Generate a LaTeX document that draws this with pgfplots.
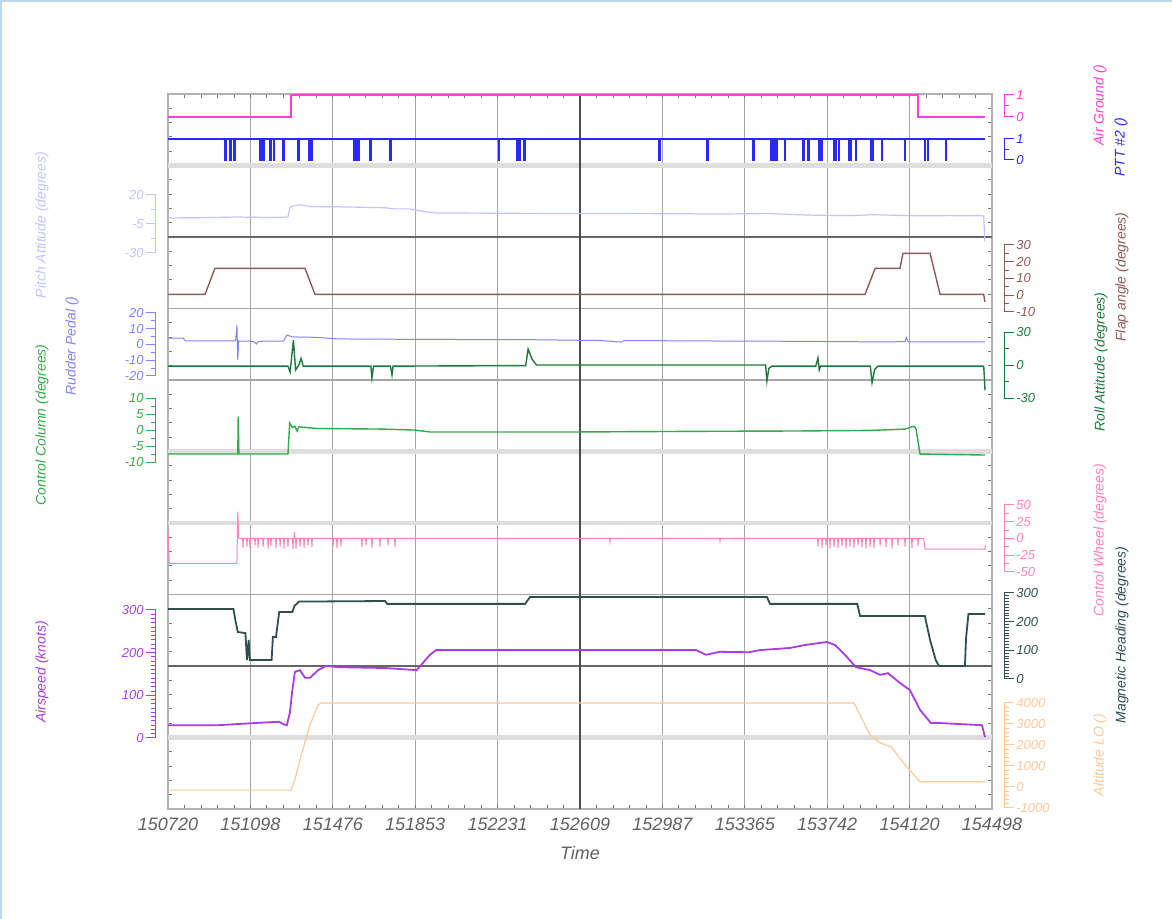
\documentclass[border=0pt]{standalone}
\usepackage{fontspec}
\setmainfont{Liberation Sans}
\usepackage{pgfplots}
\pgfplotsset{compat=1.18}
\definecolor{cAG}{RGB}{255,60,220}
\definecolor{cPTT}{RGB}{40,40,255}
\definecolor{cPitch}{RGB}{195,195,255}
\definecolor{cFlap}{RGB}{140,90,90}
\definecolor{cRud}{RGB}{130,130,255}
\definecolor{cRoll}{RGB}{30,120,60}
\definecolor{cCC}{RGB}{50,170,70}
\definecolor{cCW}{RGB}{255,130,185}
\definecolor{cHdg}{RGB}{47,79,79}
\definecolor{cAS}{RGB}{170,60,230}
\definecolor{cAlt}{RGB}{255,200,150}
\definecolor{cFrame}{RGB}{190,215,235}
\newcommand{\tl}{\fontsize{6.5}{7}\selectfont\itshape}
\newcommand{\al}{\fontsize{7}{8}\selectfont\itshape}
\pgfplotsset{
  ov/.style={scale only axis, width=412pt, height=357.5pt, at={(84pt,55pt)}, anchor=south west,
    xmin=150720, xmax=154498, hide x axis, clip=false, scaled x ticks=false,
    tick align=outside, major tick length=5pt, minor tick length=2.5pt,
    y axis line style={draw=none},
    yticklabel style={font=\tl, inner sep=1pt},
    /pgf/number format/1000 sep={}, /pgf/number format/assume math mode=true,
    scaled y ticks=false},
  ovl/.style={ov, axis y line*=left, axis y line shift=6pt},
  ovr/.style={ov, axis y line*=right, axis y line shift=6pt},
  sc/.style={tick style={color=#1, line width=0.5pt}, yticklabel style={text=#1}},
}
\newcommand{\scL}[3]{\draw[#1, line width=0.5pt] ([xshift=-6pt]axis cs:150720,#2) -- ([xshift=-6pt]axis cs:150720,#3);}
\newcommand{\scR}[3]{\draw[#1, line width=0.5pt] ([xshift=6pt]axis cs:154498,#2) -- ([xshift=6pt]axis cs:154498,#3);}
\newcommand{\px}[2]{({#1*0.5pt},{(919-#2)*0.5pt})}
\begin{document}
\begin{tikzpicture}
\useasboundingbox (0,0) rectangle (586pt,459.5pt);
\draw[cFrame, line width=1pt] (0.5pt,0) -- (0.5pt,459pt) -- (586pt,459pt);
% base axis
\begin{axis}[scale only axis, width=412pt, height=357.5pt, at={(84pt,55pt)}, anchor=south west,
  xmin=150720, xmax=154498, ymin=0, ymax=10, scaled x ticks=false, scaled y ticks=false,
  xtick={150720,151097.8,151475.6,151853.4,152231.2,152609,152986.8,153364.6,153742.4,154120.2,154498},
  xticklabels={150720,151098,151476,151853,152231,152609,152987,153365,153742,154120,154498},
  xticklabel style={font=\fontsize{9}{10}\selectfont\itshape, text=black!62, yshift=-1pt},
  minor x tick num=4,
  ytick={0,1,2,3,4,5,6,7,8,9,10}, yticklabels={}, minor y tick num=4,
  tick align=inside, major tick length=2pt, minor tick length=2pt,
  tick style={black!55, line width=0.4pt},
  xmajorgrids, major x grid style={black!35, line width=0.6pt},
  axis line style={black!30, line width=1pt},
]
\draw[black!13, line width=2.2pt] (axis cs:150720,1) -- (axis cs:154498,1);
\draw[black!60, line width=0.6pt] (axis cs:150720,2) -- (axis cs:154498,2);
\draw[black!35, line width=0.6pt] (axis cs:150720,3) -- (axis cs:154498,3);
\draw[black!13, line width=2.2pt] (axis cs:150720,4) -- (axis cs:154498,4);
\draw[black!13, line width=2.2pt] (axis cs:150720,5) -- (axis cs:154498,5);
\draw[black!35, line width=0.6pt] (axis cs:150720,6) -- (axis cs:154498,6);
\draw[black!35, line width=0.6pt] (axis cs:150720,7) -- (axis cs:154498,7);
\draw[black!60, line width=0.6pt] (axis cs:150720,8) -- (axis cs:154498,8);
\draw[black!13, line width=2.2pt] (axis cs:150720,9) -- (axis cs:154498,9);
\draw[black!70, line width=0.6pt] (axis cs:152609,0) -- (axis cs:152609,10);
\end{axis}
% Air Ground
\begin{axis}[ovr, sc=cAG, ymin=-31.45, ymax=1.045, ytick={0,1}, minor y tick num=1]
\addplot[cAG, line width=0.7pt] coordinates {(150720,0)(151284,0)(151284,1)(154159,1)(154159,0)(154466,0)};
\scR{cAG}{0}{1}
\end{axis}
% PTT #2
\begin{axis}[ovr, sc=cPTT, ymin=-30.9, ymax=3.143, ytick={0,1}, minor y tick num=1]
\addplot[cPTT, line width=0.6pt] coordinates {(150720,1)
(150981,1)(150981,0)(150986,0)(150986,1)(151004,1)(151004,0)(151009,0)(151009,1)
(151023,1)(151023,0)(151028,0)(151028,1)(151142,1)(151142,0)(151147,0)(151147,1)
(151156,1)(151156,0)(151161,0)(151161,1)(151188,1)(151188,0)(151193,0)(151193,1)
(151204,1)(151204,0)(151209,0)(151209,1)(151247,1)(151247,0)(151252,0)(151252,1)
(151316,1)(151316,0)(151321,0)(151321,1)(151366,1)(151366,0)(151371,0)(151371,1)
(151376,1)(151376,0)(151381,0)(151381,1)(151573,1)(151573,0)(151578,0)(151578,1)
(151584,1)(151584,0)(151589,0)(151589,1)(151593,1)(151593,0)(151598,0)(151598,1)
(151646,1)(151646,0)(151651,0)(151651,1)(151738,1)(151738,0)(151743,0)(151743,1)
(152235,1)(152235,0)(152240,0)(152240,1)(152320,1)(152320,0)(152325,0)(152325,1)
(152330,1)(152330,0)(152335,0)(152335,1)(152352,1)(152352,0)(152357,0)(152357,1)
(152971,1)(152971,0)(152976,0)(152976,1)(153191,1)(153191,0)(153196,0)(153196,1)
(153402,1)(153402,0)(153407,0)(153407,1)(153483,1)(153483,0)(153488,0)(153488,1)
(153494,1)(153494,0)(153499,0)(153499,1)(153508,1)(153508,0)(153513,0)(153513,1)
(153547,1)(153547,0)(153552,0)(153552,1)(153631,1)(153631,0)(153636,0)(153636,1)
(153654,1)(153654,0)(153659,0)(153659,1)(153704,1)(153704,0)(153709,0)(153709,1)
(153716,1)(153716,0)(153721,0)(153721,1)(153771,1)(153771,0)(153776,0)(153776,1)
(153781,1)(153781,0)(153786,0)(153786,1)(153794,1)(153794,0)(153799,0)(153799,1)
(153840,1)(153840,0)(153845,0)(153845,1)(153850,1)(153850,0)(153855,0)(153855,1)
(153872,1)(153872,0)(153877,0)(153877,1)(153940,1)(153940,0)(153945,0)(153945,1)
(153950,1)(153950,0)(153955,0)(153955,1)(153991,1)(153991,0)(153996,0)(153996,1)
(154095,1)(154095,0)(154100,0)(154100,1)(154189,1)(154189,0)(154194,0)(154194,1)
(154203,1)(154203,0)(154208,0)(154208,1)(154286,1)(154286,0)(154291,0)(154291,1)
(154466,1)};
\scR{cPTT}{0}{1}
\end{axis}
% Pitch Attitude
\begin{axis}[ovl, sc=cPitch, ymin=-509.3, ymax=107.07, ytick={-30,-5,20}, minor y tick num=1]
\addplot[cPitch, line width=0.6pt] coordinates {(150720,0.2)(150900,0.5)(151036,1.0)(151200,0.5)(151270,1.0)(151280,9.5)(151300,11)(151330,11.5)(151370,10)(151500,9.8)(151715,9)(151760,8)(151830,8)(151900,5.5)(151950,4.5)(152200,4.3)(152500,4)(152800,4)(153100,3.8)(153200,3.5)(153480,4)(153600,3)(153700,2.5)(153850,2.2)(153950,3)(154050,2.5)(154150,2)(154300,2.2)(154460,2)(154465,-20)};
\scL{cPitch}{-30}{20}
\end{axis}
% Flap angle
\begin{axis}[ovr, sc=cFlap, ymin=-306.7, ymax=120.1, ytick={-10,0,10,20,30}, minor y tick num=1]
\addplot[cFlap, line width=0.7pt] coordinates {(150720,0.5)(150890,0.5)(150935,16)(151348,16)(151394,0.5)(153916,0.5)(153962,16)(154076,16)(154090,25)(154214,25)(154260,0.5)(154460,0.5)(154465,-4)};
\scR{cFlap}{-10}{30}
\end{axis}
% Rudder Pedal
\begin{axis}[ovl, sc=cRud, ymin=-294.9, ymax=159.0, ytick={-20,-10,0,10,20}, minor y tick num=1]
\addplot[cRud, line width=0.5pt] coordinates {(150720,4)(150790,4)(150800,2.2)(151030,2.2)(151036,12.4)(151040,-9.8)(151044,2.2)(151110,2)(151125,0.3)(151135,2)(151250,2.2)(151265,6)(151290,4.8)(151400,4.5)(151500,3.5)(151900,3.2)(152400,3)(152700,2.5)(152800,1.5)(152810,2.5)(153200,2.2)(153600,2)(154000,1.6)(154100,1.8)(154105,4.5)(154115,1.6)(154300,1.6)(154466,1.6)};
\scL{cRud}{-20}{20}
\end{axis}
% Roll Attitude
\begin{axis}[ovr, sc=cRoll, ymin=-403.6, ymax=246.4, ytick={-30,0,30}, minor y tick num=1]
\addplot[cRoll, line width=0.7pt] coordinates {(150720,-1)(151270,-1)(151280,-6.4)(151295,22.7)(151305,-4.5)(151320,0)(151330,6)(151340,-1)(151650,-1)(151655,-11.8)(151662,-1)(151740,-1)(151747,-9)(151752,-1)(152360,-0.5)(152371,14.5)(152390,5)(152410,0)(153460,0)(153466,-14.5)(153475,-3)(153490,-1)(153690,-1)(153700,6.4)(153706,-4.5)(153712,-1)(153940,-1)(153948,-16)(153960,-4)(153975,-1)(154460,-1)(154466,-23)};
\scR{cRoll}{-30}{30}
\end{axis}
% Control Column
\begin{axis}[ovl, sc=cCC, ymin=-118.4, ymax=105, ytick={-10,-5,0,5,10}, minor y tick num=1]
\addplot[cCC, line width=0.7pt] coordinates {(150720,-7.5)(151040,-7.5)(151042,4.2)(151045,-7.5)(151270,-7.5)(151278,2.2)(151290,0.8)(151302,1.2)(151312,-0.3)(151320,1)(151400,0.5)(151700,0.3)(151850,0)(151921,-0.6)(152600,-0.6)(153160,-0.4)(153600,-0.3)(153950,-0.1)(154100,0.3)(154140,1.2)(154150,0.3)(154168,-7.5)(154466,-7.8)};
\scL{cCC}{-10}{10}
\end{axis}
% Control Wheel
\begin{axis}[ovr, sc=cCW, ymin=-403.7, ymax=663.4, ytick={-50,-25,0,25,50}, minor y tick num=1]
\addplot[cCW, line width=0.5pt] coordinates {(150720,12)(150726,-37)(151036,-37)(151040,40)(151044,1)(151050,0)
(151062,0)(151064,-14)(151066,0)(151080,0)(151082,-12)(151084,0)(151094,0)(151096,-15)(151098,0)
(151117,0)(151119,-10)(151121,0)(151131,0)(151133,-14)(151135,0)(151154,0)(151156,-13)(151158,0)
(151177,0)(151179,-15)(151181,0)(151190,0)(151192,-11)(151194,0)(151213,0)(151215,-14)(151217,0)
(151232,0)(151234,-12)(151236,0)(151250,0)(151252,-15)(151254,0)(151268,0)(151270,-13)(151272,0)
(151291,0)(151293,-16)(151295,0)(151298,0)(151300,10)(151302,0)(151305,0)(151307,-15)(151309,0)
(151323,0)(151325,-12)(151327,0)(151342,0)(151344,-14)(151346,0)(151360,0)(151362,-10)(151364,0)
(151378,0)(151380,-13)(151382,0)(151475,0)(151477,-12)(151479,0)(151493,0)(151495,-14)(151497,0)
(151511,0)(151513,-11)(151515,0)(151607,0)(151609,-13)(151611,0)(151626,0)(151628,-10)(151630,0)
(151653,0)(151655,-14)(151657,0)(151690,0)(151692,-12)(151694,0)(151727,0)(151729,-10)(151731,0)
(151759,0)(151761,-13)(151763,0)(152744,0)(152746,-5)(152748,0)(153249,0)(153251,-4)(153253,0)
(153698,0)(153700,-12)(153702,0)(153717,0)(153719,-14)(153721,0)(153735,0)(153737,-10)(153739,0)
(153753,0)(153755,-15)(153757,0)(153772,0)(153774,-13)(153776,0)(153790,0)(153792,-14)(153794,0)
(153808,0)(153810,-11)(153812,0)(153827,0)(153829,-15)(153831,0)(153845,0)(153847,-12)(153849,0)
(153863,0)(153865,-14)(153867,0)(153882,0)(153884,-10)(153886,0)(153900,0)(153902,-13)(153904,0)
(153918,0)(153920,-15)(153922,0)(153937,0)(153939,-12)(153941,0)(153955,0)(153957,-14)(153959,0)
(153983,0)(153985,-11)(153987,0)(154010,0)(154012,-13)(154014,0)(154038,0)(154040,-15)(154042,0)
(154065,0)(154067,-10)(154069,0)(154097,0)(154099,-12)(154101,0)(154129,0)(154131,-14)(154133,0)
(154157,0)(154159,-11)(154161,0)(154185,0)(154191,-16)(154466,-16)(154468,-10)};
\scR{cCW}{-50}{50}
\end{axis}
% Magnetic Heading
\begin{axis}[ovr, sc=cHdg, ymin=-453.5, ymax=2040.7, ytick={0,100,200,300}, minor y tick num=9]
\addplot[cHdg, line width=0.9pt] coordinates {(150720,244)(151020,244)(151030,200)(151040,164)(151075,160)(151082,66)(151090,136)(151095,66)(151105,66)(151195,66)(151201,146)(151215,146)(151230,234)(151290,234)(151300,255)(151321,270)(151715,272)(151725,262)(152357,262)(152380,286)(153466,286)(153480,262)(153880,262)(153893,220)(154190,220)(154214,136)(154240,66)(154255,45)(154374,45)(154379,143)(154390,227)(154466,227)};
\scR{cHdg}{0}{300}
\end{axis}
% Airspeed
\begin{axis}[ovl, sc=cAS, ymin=-166.4, ymax=1509.4, ytick={0,100,200,300}, minor y tick num=9]
\addplot[cAS, line width=0.9pt] coordinates {(150720,30)(150950,30)(151050,33)(151150,36)(151230,38)(151250,32)(151265,30)(151279,60)(151290,112)(151302,155)(151325,159)(151348,141)(151371,141)(151408,159)(151444,169)(151500,166)(151715,164)(151860,159)(151921,195)(151949,206)(152500,206)(152976,206)(153141,206)(153187,195)(153250,202)(153384,201)(153434,206)(153572,211)(153641,218)(153741,225)(153778,218)(153824,195)(153874,166)(153939,159)(153985,148)(154021,152)(154076,129)(154122,112)(154168,66)(154218,35)(154260,35)(154452,30)(154466,2)};
\scL{cAS}{0}{300}
\end{axis}
% Altitude
\begin{axis}[ovr, sc=cAlt, ymin=-1047.6, ymax=33000, ytick={-1000,0,1000,2000,3000,4000}, minor y tick num=4]
\addplot[cAlt, line width=0.6pt] coordinates {(150720,-150)(151284,-150)(151302,350)(151325,1300)(151371,2960)(151408,3900)(151422,4000)(153865,4000)(153939,2480)(153985,2100)(154035,1920)(154099,1060)(154168,250)(154466,250)};
\scR{cAlt}{-1000}{4000}
\end{axis}
% labels
\node[font=\fontsize{9}{10}\selectfont\itshape, text=black!62] at \px{580}{853} {Time};
\node[rotate=90, font=\al, text=cPitch] at \px{42}{225} {Pitch Attitude (degrees)};
\node[rotate=90, font=\al, text=cRud] at \px{72}{346} {Rudder Pedal ()};
\node[rotate=90, font=\al, text=cCC] at \px{42}{425} {Control Column (degrees)};
\node[rotate=90, font=\al, text=cAS] at \px{42}{672} {Airspeed (knots)};
\node[rotate=90, font=\al, text=cAG] at \px{1100}{105} {Air Ground ()};
\node[rotate=90, font=\al, text=cPTT] at \px{1121}{147} {PTT \#2 ()};
\node[rotate=90, font=\al, text=cFlap] at \px{1122}{277} {Flap angle (degrees)};
\node[rotate=90, font=\al, text=cRoll] at \px{1101}{362} {Roll Attitude (degrees)};
\node[rotate=90, font=\al, text=cCW] at \px{1100}{540} {Control Wheel (degrees)};
\node[rotate=90, font=\al, text=cHdg] at \px{1122}{635} {Magnetic Heading (degrees)};
\node[rotate=90, font=\al, text=cAlt] at \px{1100}{755} {Altitude LO ()};
\end{tikzpicture}
\end{document}
